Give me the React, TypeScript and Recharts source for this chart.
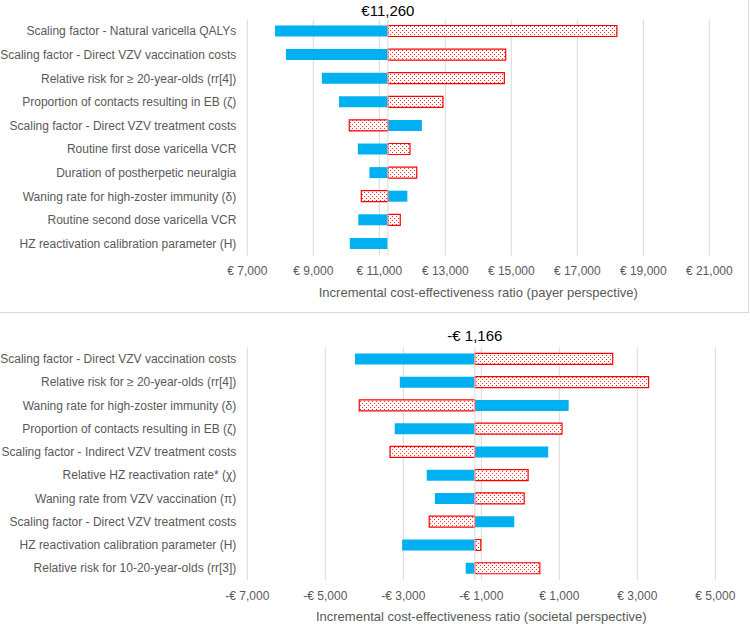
import React from "react"
import { Bar, BarChart, CartesianGrid, XAxis, YAxis, ReferenceLine, Label } from "recharts"

// payer perspective (top chart)
const payerParams = [
  "Scaling factor - Natural varicella QALYs",
  "Scaling factor - Direct VZV vaccination costs",
  "Relative risk for ≥ 20-year-olds (rr[4])",
  "Proportion of contacts resulting in EB (ζ)",
  "Scaling factor - Direct VZV treatment costs",
  "Routine first dose varicella VCR",
  "Duration of postherpetic neuralgia",
  "Waning rate for high-zoster immunity (δ)",
  "Routine second dose varicella VCR",
  "HZ reactivation calibration parameter (H)",
]
const payerBlue = [7840, 8170, 9260, 9780, 12290, 10350, 10700, 11850, 10365, 10105]
const payerRed = [18200, 14830, 14790, 12930, 10090, 11930, 12135, 10455, 11635, 11260]
const payerBase = 11260
const payerBaseLabel = "€11,260"
const payerTicks = [7000, 9000, 11000, 13000, 15000, 17000, 19000, 21000]

// societal perspective (bottom chart)
const societalParams = [
  "Scaling factor - Direct VZV vaccination costs",
  "Relative risk for ≥ 20-year-olds (rr[4])",
  "Waning rate for high-zoster immunity (δ)",
  "Proportion of contacts resulting in EB (ζ)",
  "Scaling factor - Indirect VZV treatment costs",
  "Relative HZ reactivation rate* (χ)",
  "Waning rate from VZV vaccination (π)",
  "Scaling factor - Direct VZV treatment costs",
  "HZ reactivation calibration parameter (H)",
  "Relative risk for 10-20-year-olds (rr[3])",
]
const societalBlue = [-4240, -3090, 1240, -3220, 715, -2400, -2190, -155, -3030, -1400]
const societalRed = [2370, 3290, -4130, 1070, -3340, 200, 100, -2335, -1012, 500]
const societalBase = -1166
const societalBaseLabel = "-€ 1,166"
const societalTicks = [-7000, -5000, -3000, -1000, 1000, 3000, 5000]

const BLUE = "#00B0F0"
const RED = "#FF0000"
const GRID = "#D9D9D9"
const TEXT = "#595959"

const euro = (v: number) =>
  v < 0 ? `-€ ${Math.abs(v).toLocaleString("en-US")}` : `€ ${v.toLocaleString("en-US")}`

const range = (a: number, b: number) => [Math.min(a, b), Math.max(a, b)]

// single-line category label (no wrapping)
const ParamTick = ({ x, y, payload }: any) => (
  <text x={x} y={y} dy={4} textAnchor="end" fontSize={12} fill={TEXT}>
    {payload.value}
  </text>
)

type TornadoProps = {
  id: string
  params: string[]
  blue: number[]
  red: number[]
  base: number
  baseLabel: string
  ticks: number[]
  axisTitle: string
  width: number
  height: number
  margin: { top: number; right: number; bottom: number; left: number }
  titleOffset: number
}

function Tornado(p: TornadoProps) {
  const data = p.params.map((name, i) => ({
    name,
    blue: range(p.base, p.blue[i]),
    red: range(p.base, p.red[i]),
  }))
  return (
    <BarChart
      width={p.width}
      height={p.height}
      data={data}
      layout="vertical"
      margin={p.margin}
      barSize={11}
      barGap={-11}
    >
      <defs>
        <pattern id={p.id} width={4} height={4} patternUnits="userSpaceOnUse">
          <rect width={4} height={4} fill="#ffffff" />
          <rect x={0} y={0} width={1} height={1} fill={RED} opacity={0.85} />
          <rect x={2} y={2} width={1} height={1} fill={RED} opacity={0.85} />
        </pattern>
      </defs>
      <CartesianGrid horizontal={false} stroke={GRID} />
      <XAxis
        type="number"
        domain={[p.ticks[0], p.ticks[p.ticks.length - 1]]}
        ticks={p.ticks}
        tickFormatter={euro}
        tickLine={false}
        axisLine={false}
        tickMargin={5}
        height={45}
        tick={{ fontSize: 12, fill: TEXT }}
      >
        <Label value={p.axisTitle} position="insideBottom" offset={4} fontSize={13} fill={TEXT} />
      </XAxis>
      <YAxis
        type="category"
        dataKey="name"
        width={247.3}
        tickLine={false}
        axisLine={false}
        tickMargin={5}
        interval={0}
        tick={<ParamTick />}
      />
      <ReferenceLine x={p.base} stroke={GRID}>
        <Label value={p.baseLabel} position="top" offset={p.titleOffset} fontSize={15} fill="#000000" />
      </ReferenceLine>
      <Bar dataKey="blue" fill={BLUE} isAnimationActive={false} />
      <Bar dataKey="red" fill={`url(#${p.id})`} stroke={RED} strokeWidth={1.2} isAnimationActive={false} />
    </BarChart>
  )
}

export default function App() {
  return (
    <div
      style={{
        position: "absolute",
        left: 0,
        top: 0,
        width: 750,
        height: 632,
        background: "#ffffff",
        fontFamily: "'Liberation Sans', Arial, sans-serif",
      }}
    >
      <div
        style={{
          position: "absolute",
          left: 0,
          top: 0,
          width: 748,
          height: 312,
          borderRight: `1px solid ${GRID}`,
          borderBottom: `1px solid ${GRID}`,
        }}
      >
        <Tornado
          id="dotsPayer"
          params={payerParams}
          blue={payerBlue}
          red={payerRed}
          base={payerBase}
          baseLabel={payerBaseLabel}
          ticks={payerTicks}
          axisTitle="Incremental cost-effectiveness ratio (payer perspective)"
          width={748}
          height={312}
          margin={{ top: 19.5, right: 38.7, bottom: 11.5, left: 0 }}
          titleOffset={3.5}
        />
      </div>
      <div style={{ position: "absolute", left: 0, top: 313 }}>
        <Tornado
          id="dotsSocietal"
          params={societalParams}
          blue={societalBlue}
          red={societalRed}
          base={societalBase}
          baseLabel={societalBaseLabel}
          ticks={societalTicks}
          axisTitle="Incremental cost-effectiveness ratio (societal perspective)"
          width={750}
          height={319}
          margin={{ top: 34.4, right: 34.7, bottom: 7, left: 0 }}
          titleOffset={6.5}
        />
      </div>
    </div>
  )
}
